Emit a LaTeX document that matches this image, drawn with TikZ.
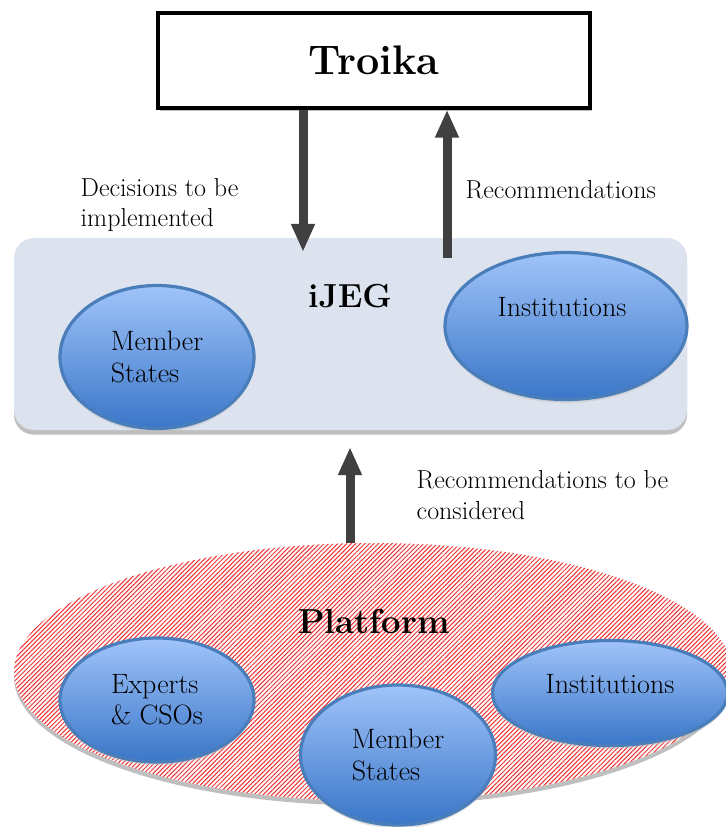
\documentclass[tikz,border=0pt]{standalone}
\usepackage{fontspec}
\usetikzlibrary{shapes.geometric,arrows.meta,shadows,patterns.meta}

\definecolor{arrowgrey}{RGB}{64,64,64}
\definecolor{ijegfill}{RGB}{220,227,238}
\definecolor{blobedge}{RGB}{74,126,187}
\definecolor{blobtop}{RGB}{160,196,250}
\definecolor{blobbottom}{RGB}{58,118,200}
\definecolor{hatchred}{RGB}{240,50,50}

\begin{document}
\begin{tikzpicture}[x=0.75pt, y=-0.75pt,
  every node/.style={font=\fontsize{19.5}{23}\selectfont},
  title/.style={font=\fontsize{27}{32}\selectfont\bfseries},
  blob/.style={ellipse, draw=blobedge, line width=2.4pt, top color=blobtop,
    bottom color=blobbottom, align=left, inner sep=0pt,
    font=\fontsize{21}{23.5}\selectfont,
    drop shadow={shadow xshift=0pt, shadow yshift=-2.5pt, fill=black!25, opacity=0.5}},
  bigarrow/.style={draw=arrowgrey, line width=6.75pt, -{Triangle[width=16.5pt,length=21pt]}}]
\useasboundingbox (0,0) rectangle (725,827);
% Troika
\node[draw, line width=2.4pt, fill=white, minimum width=324pt, minimum height=71.25pt,
  drop shadow={shadow xshift=1.5pt, shadow yshift=-2pt, fill=black!25, opacity=1},
  title, font=\fontsize{31}{36}\selectfont\bfseries] (troika) at (374,60.5) {Troika};
% iJEG
\node[rounded corners=15pt, fill=ijegfill, minimum width=504.75pt, minimum height=144pt,
  drop shadow={shadow xshift=0pt, shadow yshift=-3.5pt, fill=black!25, opacity=1}]
  (ijeg) at (350.5,334) {};
\node[title, font=\fontsize{25}{28}\selectfont\bfseries] (ijeglabel) at (350,296) {iJEG};
\node[blob, minimum width=145.5pt, minimum height=107.25pt] (ms1) at (157,357) {Member\\States};
\node[blob, minimum width=181.5pt, minimum height=110.25pt] (inst1) at (566,326) {};
\node[font=\fontsize{21}{23.5}\selectfont] (inst1txt) at (562,307) {Institutions};
% Platform
\node[ellipse, fill=white, minimum width=538.5pt, minimum height=193.5pt,
  drop shadow={shadow xshift=0pt, shadow yshift=-3.5pt, fill=black!25, opacity=1},
  postaction={pattern={Lines[angle=45,distance=2.4pt,line width=0.75pt]}, pattern color=hatchred}]
  (platform) at (373,672) {};
\node[title, font=\fontsize{26}{30}\selectfont\bfseries] (platformlabel) at (374,621) {Platform};
\node[blob, minimum width=145.5pt, minimum height=93pt] (exp) at (157,700) {Experts\\\& CSOs};
\node[blob, minimum width=146.25pt, minimum height=105pt] (ms2) at (398,755) {Member\\States};
\node[blob, minimum width=176.25pt, minimum height=78.75pt] (inst2) at (610,693) {};
\node[font=\fontsize{21}{23.5}\selectfont] (inst2txt) at (610,684) {Institutions};
% Arrows
\coordinate (dectip) at (303,252);
\coordinate (rectail) at (447,258);
\coordinate (constip) at (350,447);
\draw[bigarrow] (troika.south -| dectip) -- (dectip);
\draw[bigarrow] (rectail) -- (troika.south -| rectail);
\draw[bigarrow] (constip |- platform.north) -- (constip);
% Labels
\node[anchor=west, align=left] (declabel) at (76,205) {Decisions to be\\implemented};
\node[anchor=west] (reclabel) at (461,190) {Recommendations};
\node[anchor=west, align=left] (conslabel) at (412,495) {Recommendations to be\\considered};
\end{tikzpicture}
\end{document}
